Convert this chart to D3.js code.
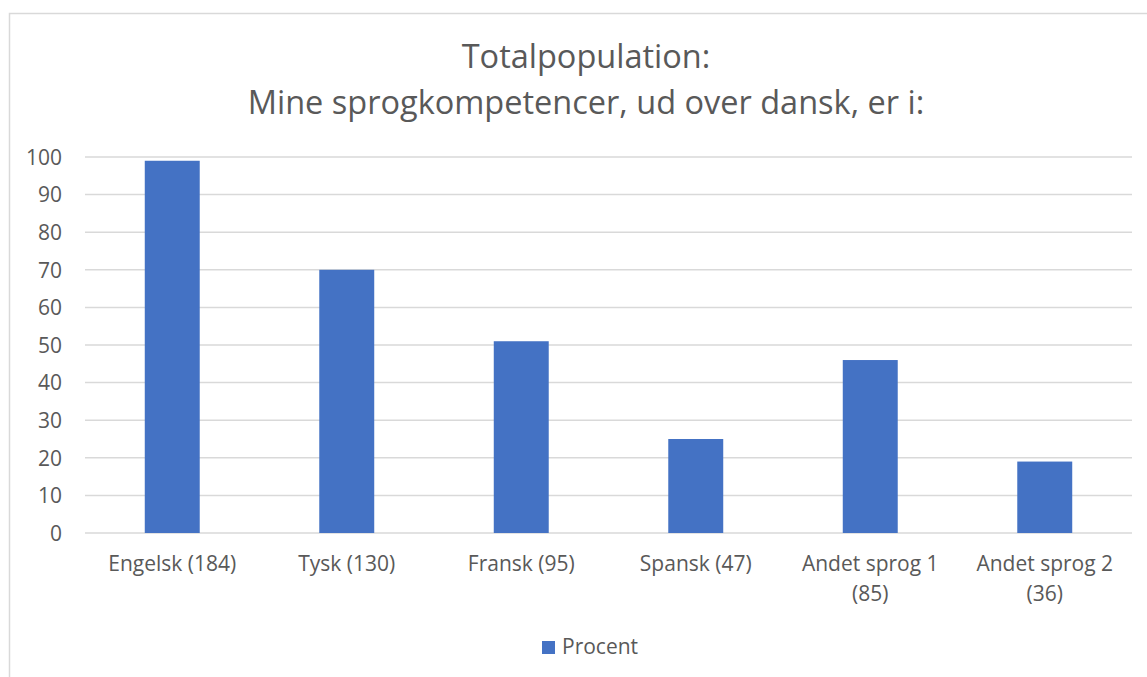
<!DOCTYPE html>
<html>
<head>
<meta charset="utf-8">
<title>Totalpopulation</title>
<script src="https://cdnjs.cloudflare.com/ajax/libs/d3/7.8.5/d3.min.js"></script>
<style>
  body { margin: 0; background: #fff; }
  text { font-family: "Open Sans", "Noto Sans", sans-serif; fill: #595959; }
</style>
</head>
<body>
<div id="chart"></div>
<script>
// data
var categories = ["Engelsk (184)", "Tysk (130)", "Fransk (95)", "Spansk (47)", "Andet sprog 1 (85)", "Andet sprog 2 (36)"];
var procent = [99, 70, 51, 25, 46, 19];
var yTicks = [0, 10, 20, 30, 40, 50, 60, 70, 80, 90, 100];
var titleLines = ["Totalpopulation:", "Mine sprogkompetencer, ud over dansk, er i:"];
var seriesName = "Procent";

var W = 1147, H = 677;
var plot = {left: 85, right: 1132, top: 157, bottom: 533};

var svg = d3.select('#chart').append('svg')
    .attr('width', W)
    .attr('height', H);

// chart frame (only left and top edges are inside the picture)
svg.append('path')
    .attr('d', 'M9.5,' + H + 'V13.5H' + W)
    .attr('fill', 'none')
    .attr('stroke', '#d9d9d9')
    .attr('stroke-width', 1.5);

var x = d3.scaleBand()
    .domain(categories)
    .range([plot.left, plot.right])
    .padding(0);

var y = d3.scaleLinear()
    .domain([0, 100])
    .range([plot.bottom, plot.top]);

// gridlines
svg.append('g')
    .selectAll('line')
    .data(yTicks)
    .enter()
    .append('line')
    .attr('x1', plot.left)
    .attr('x2', plot.right)
    .attr('y1', function(d){ return y(d); })
    .attr('y2', function(d){ return y(d); })
    .attr('stroke', '#d9d9d9')
    .attr('stroke-width', 1.5);

// y axis labels
var yAxis = d3.axisLeft(y).tickValues(yTicks).tickSize(0).tickPadding(0);
var gy = svg.append('g')
    .attr('transform', 'translate(62,0)')
    .call(yAxis);
gy.select('.domain').remove();
gy.selectAll('text')
    .style('font-size', '21px')
    .attr('font-family', null)
    .attr('dy', '0.35em');

// bars, Excel-like gap width
var barW = x.bandwidth() * 0.315;
svg.append('g')
    .selectAll('rect')
    .data(procent)
    .enter()
    .append('rect')
    .attr('x', function(d, i){ return x(categories[i]) + (x.bandwidth() - barW) / 2; })
    .attr('y', function(d){ return y(d); })
    .attr('width', barW)
    .attr('height', function(d){ return y(0) - y(d); })
    .style('fill', '#4472c4');

// category labels, wrapped like Excel does
function wrapLabel(s) {
    if (s.length > 14) {
        var k = s.lastIndexOf(' ');
        return [s.slice(0, k), s.slice(k + 1)];
    }
    return [s];
}
var gx = svg.append('g');
categories.forEach(function(c){
    var t = gx.append('text')
        .attr('text-anchor', 'middle')
        .attr('x', x(c) + x.bandwidth() / 2)
        .attr('y', 571)
        .style('font-size', '21px');
    wrapLabel(c).forEach(function(line, j){
        t.append('tspan')
            .attr('x', x(c) + x.bandwidth() / 2)
            .attr('dy', j === 0 ? 0 : 30)
            .text(line);
    });
});

// title
svg.append('g')
    .selectAll('text')
    .data(titleLines)
    .enter()
    .append('text')
    .attr('x', 586)
    .attr('y', function(d, i){ return 68 + i * 46; })
    .attr('text-anchor', 'middle')
    .style('font-size', '32.5px')
    .text(function(d){ return d; });

// legend
var lg = svg.append('g').attr('transform', 'translate(542,641)');
lg.append('rect')
    .attr('width', 13)
    .attr('height', 13)
    .style('fill', '#4472c4');
lg.append('text')
    .attr('x', 20)
    .attr('y', 13)
    .style('font-size', '21px')
    .text(seriesName);
</script>
</body>
</html>
